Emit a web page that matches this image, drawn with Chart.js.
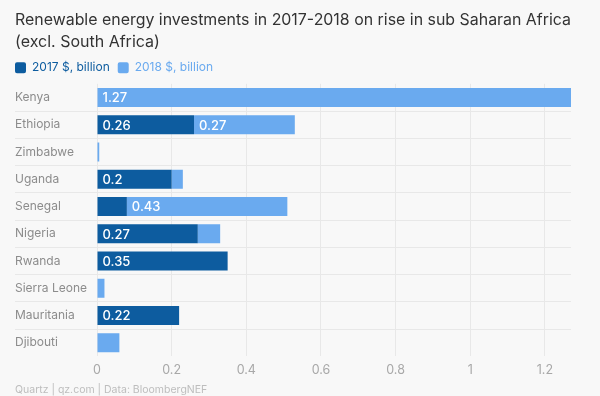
<!DOCTYPE html>
<html>
<head>
<meta charset="utf-8">
<script src="https://cdn.jsdelivr.net/npm/chart.js@4"></script>
<style>
  html, body { margin: 0; padding: 0; background: #f8f8f8; }
  #wrap { width: 600px; height: 396px; }
</style>
</head>
<body>
<div id="wrap"><canvas id="invest"></canvas></div>
<script>
const countries = ["Kenya", "Ethiopia", "Zimbabwe", "Uganda", "Senegal", "Nigeria", "Rwanda", "Sierra Leone", "Mauritania", "Djibouti"];
const invest2017 = [0, 0.26, 0, 0.2, 0.08, 0.27, 0.35, 0, 0.22, 0];
const invest2018 = [1.27, 0.27, 0.006, 0.03, 0.43, 0.06, 0, 0.02, 0, 0.06];
const xMax = 1.27;
const xStep = 0.2;

const dark = "#0d5c9f";
const light = "#6aaaef";

// white value labels at the start of each bar segment
const barLabels = {
    id: "barLabels",
    afterDatasetsDraw(chart) {
        const ctx = chart.ctx;
        ctx.save();
        ctx.fillStyle = "#fff";
        ctx.font = "500 13px Inter";
        ctx.textBaseline = "middle";
        ctx.textAlign = "left";
        chart.data.datasets.forEach((ds, i) => {
            chart.getDatasetMeta(i).data.forEach((bar, j) => {
                const v = ds.data[j];
                if (v < 0.1) return;
                ctx.fillText(String(v), bar.base + 5, bar.y + 1);
            });
        });
        ctx.restore();
    },
};

// pull the legend flush with the title's left edge
const legendShift = {
    id: "legendShift",
    afterLayout(chart) {
        chart.legend.left -= 8;
        chart.legend.right -= 8;
    },
};

new Chart(document.getElementById("invest"), {
    type: "bar",
    data: {
        labels: countries,
        datasets: [
            {
                label: "2017 $, billion",
                data: invest2017,
                backgroundColor: dark,
            },
            {
                label: "2018 $, billion",
                data: invest2018,
                backgroundColor: light,
            },
        ],
    },
    options: {
        indexAxis: "y",
        responsive: true,
        maintainAspectRatio: false,
        animation: false,
        layout: { padding: { left: 15, right: 29, top: 5, bottom: 0 } },
        datasets: {
            bar: { categoryPercentage: 1, barPercentage: 0.7 },
        },
        scales: {
            x: {
                stacked: true,
                min: 0,
                max: xMax,
                border: { display: false },
                grid: { color: "#e8e8e8", drawTicks: false },
                ticks: {
                    stepSize: xStep,
                    includeBounds: false,
                    padding: 6,
                    color: "#a8a8a8",
                    font: { family: "Inter", size: 12.5 },
                    callback: (v) => String(+v.toFixed(1)),
                },
            },
            y: {
                stacked: true,
                border: { display: false },
                afterFit(scale) { scale.width = 82; },
                grid: {
                    offset: true,
                    tickLength: 82,
                    color: (c) => (c.type === "tick" && c.index > 0 ? "#e8e8e8" : "transparent"),
                },
                ticks: {
                    crossAlign: "far",
                    padding: 0,
                    color: "#8c8c8c",
                    font: { family: "Inter", size: 12 },
                },
            },
        },
        plugins: {
            tooltip: { enabled: false },
            title: {
                display: true,
                align: "start",
                text: ["Renewable energy investments in 2017-2018 on rise in sub Saharan Africa", "(excl. South Africa)"],
                color: "#333",
                font: { family: "Inter", size: 16, weight: "normal", lineHeight: 1.4 },
                padding: { top: 4, bottom: 0 },
            },
            legend: {
                align: "start",
                labels: {
                    boxWidth: 11,
                    boxHeight: 11,
                    useBorderRadius: true,
                    borderRadius: 2,
                    padding: 8,
                    font: { family: "Inter", size: 12 },
                    generateLabels(chart) {
                        return chart.data.datasets.map((ds, i) => ({
                            text: ds.label,
                            fillStyle: ds.backgroundColor,
                            strokeStyle: ds.backgroundColor,
                            lineWidth: 0,
                            fontColor: ds.backgroundColor,
                            borderRadius: 2,
                            datasetIndex: i,
                        }));
                    },
                },
            },
            subtitle: {
                display: true,
                position: "bottom",
                align: "start",
                text: "Quartz | qz.com | Data: BloombergNEF",
                color: "#bdbdbd",
                font: { family: "Inter", size: 10.5 },
                padding: { top: 0, bottom: 0 },
            },
        },
    },
    plugins: [barLabels, legendShift],
});
</script>
</body>
</html>
